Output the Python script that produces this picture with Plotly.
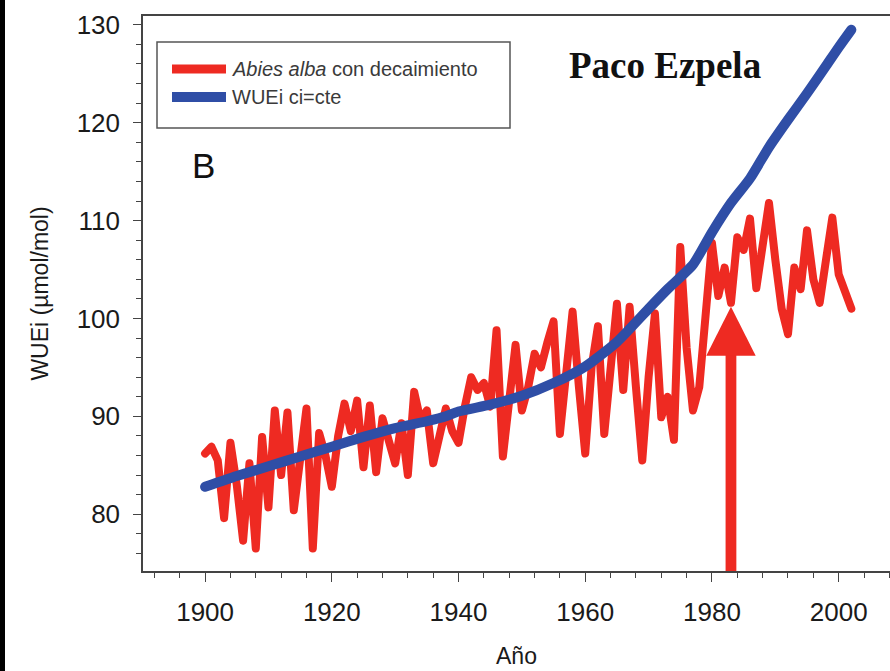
import plotly.graph_objects as go

# ---------------- data ----------------
red_years = list(range(1900, 2003))
red_wuei = [
    86.2, 86.9, 85.5, 79.6, 87.3, 83.0, 77.3, 85.2, 76.5, 87.9,   # 1900-1909
    80.7, 90.6, 84.0, 90.4, 80.4, 86.0, 90.8, 76.5, 88.3, 86.0,   # 1910-1919
    82.8, 88.0, 91.3, 88.5, 91.6, 84.8, 91.1, 84.3, 89.8, 87.5,   # 1920-1929
    85.2, 89.3, 84.0, 92.5, 89.6, 90.6, 85.2, 88.0, 90.8, 88.5,   # 1930-1939
    87.3, 91.0, 94.0, 92.7, 93.4, 91.0, 98.8, 85.9, 91.0, 97.3,   # 1940-1949
    90.6, 93.0, 96.4, 95.0, 97.5, 99.7, 88.2, 95.0, 100.7, 93.0,  # 1950-1959
    86.2, 95.0, 99.2, 88.2, 95.0, 101.5, 92.7, 101.2, 93.0, 85.5, # 1960-1969
    94.0, 100.5, 89.9, 92.0, 87.6, 107.3, 97.0, 90.6, 93.0, 100.0,# 1970-1979
    107.7, 102.3, 105.2, 101.6, 108.3, 107.0, 110.2, 103.1, 108.0, 111.8,  # 1980-1989
    106.0, 101.0, 98.4, 105.2, 103.0, 109.0, 104.0, 101.6, 106.0, 110.3,   # 1990-1999
    104.5, 103.0, 101.0,                                                  # 2000-2002
]

blue_years = [1900, 1905, 1910, 1915, 1920, 1925, 1930, 1935, 1938, 1940, 1945,
              1950, 1955, 1960, 1965, 1970, 1973, 1977, 1980, 1983, 1986, 1989,
              1992, 1995, 1998, 2000, 2002]
blue_wuei = [82.8, 83.9, 84.9, 85.9, 86.9, 87.9, 88.8, 89.5, 90.0, 90.5, 91.2,
             92.1, 93.4, 95.1, 97.6, 101.0, 103.0, 105.5, 108.8, 111.8, 114.3, 117.5,
             120.3, 123.0, 125.8, 127.7, 129.5]

arrow_year = 1983.0
arrow_tip = 101.2

x_ticks = [1900, 1920, 1940, 1960, 1980, 2000]
y_ticks = [80, 90, 100, 110, 120, 130]

name_red = "<i>Abies alba</i> con decaimiento"
name_blue = "WUEi ci=cte"
panel_letter = "B"
site_title = "Paco Ezpela"
x_title = "Año"
y_title = "WUEi (µmol/mol)"

# ---------------- layout geometry ----------------
W, H = 890, 671
L, T, R, B = 143, 16, 0, 100
PW, PH = W - L - R, H - T - B

def px(xp):
    return (xp - L) / PW

def py(yp):
    return (H - B - yp) / PH

RED = "#ee2a22"
BLUE = "#2f4ea6"
AXC = "#444444"
FONT = "Liberation Sans, Arial, sans-serif"

fig = go.Figure()
fig.add_trace(go.Scatter(x=red_years, y=red_wuei, mode="lines", name=name_red,
                         line=dict(color=RED, width=8), showlegend=False))
fig.add_trace(go.Scatter(x=blue_years, y=blue_wuei, mode="lines", name=name_blue,
                         line=dict(color=BLUE, width=10, shape="spline", smoothing=0.6),
                         showlegend=False))

shapes = []
# red arrow (shaft + head)
head_h = 5.0
head_w = 3.9
shaft_w = 0.85
shapes.append(dict(type="rect", xref="x", yref="y",
                   x0=arrow_year - shaft_w, x1=arrow_year + shaft_w,
                   y0=74.2, y1=arrow_tip - head_h + 0.1,
                   fillcolor=RED, line=dict(width=0)))
shapes.append(dict(type="path", xref="x", yref="y",
                   path=f"M {arrow_year - head_w} {arrow_tip - head_h} L {arrow_year + head_w} {arrow_tip - head_h} L {arrow_year} {arrow_tip} Z",
                   fillcolor=RED, line=dict(width=0)))
# manual legend box
shapes.append(dict(type="rect", xref="paper", yref="paper",
                   x0=px(157), x1=px(510), y0=py(128), y1=py(42),
                   fillcolor="white", line=dict(color="#555555", width=1.5), layer="below"))
shapes.append(dict(type="line", xref="paper", yref="paper",
                   x0=px(172), x1=px(226), y0=py(69), y1=py(69),
                   line=dict(color=RED, width=9)))
shapes.append(dict(type="line", xref="paper", yref="paper",
                   x0=px(172), x1=px(226), y0=py(97), y1=py(97),
                   line=dict(color=BLUE, width=10)))
# scan black strip at left edge
shapes.append(dict(type="rect", xref="paper", yref="paper",
                   x0=px(0), x1=px(5), y0=py(H), y1=py(0),
                   fillcolor="black", line=dict(width=0)))

annotations = [
    dict(text=name_red, x=px(230), y=py(69), xref="paper", yref="paper",
         xanchor="left", yanchor="middle", showarrow=False,
         font=dict(family=FONT, size=20, color="#3a3a3a")),
    dict(text=name_blue, x=px(230), y=py(97), xref="paper", yref="paper",
         xanchor="left", yanchor="middle", showarrow=False,
         font=dict(family=FONT, size=20, color="#3a3a3a")),
    dict(text=f"<b>{site_title}</b>", x=px(665), y=py(66), xref="paper", yref="paper",
         xanchor="center", yanchor="middle", showarrow=False,
         font=dict(family="Liberation Serif, Times New Roman, serif", size=37, color="#111111")),
    dict(text=panel_letter, x=px(203), y=py(165), xref="paper", yref="paper",
         xanchor="center", yanchor="middle", showarrow=False,
         font=dict(family=FONT, size=35, color="#111111")),
]

fig.update_layout(
    width=W, height=H,
    margin=dict(l=L, r=R, t=T, b=B),
    paper_bgcolor="white", plot_bgcolor="white",
    shapes=shapes, annotations=annotations,
    showlegend=False,
    font=dict(family=FONT, color="#1a1a1a"),
)
fig.update_xaxes(
    range=[1890.2, 2008.1], tickvals=x_ticks, ticktext=[str(v) for v in x_ticks],
    ticks="outside", ticklen=9, tickwidth=1.3, tickcolor=AXC,
    showline=True, linecolor=AXC, linewidth=1.5, mirror=True,
    showgrid=False, zeroline=False,
    tickfont=dict(size=26, family=FONT, color="#1a1a1a"),
    ticklabelstandoff=8,
    minor=dict(dtick=4, tick0=1900, ticks="outside", ticklen=5, tickcolor=AXC, tickwidth=1, showgrid=False),
    title=dict(text=x_title, font=dict(size=23, family=FONT, color="#1a1a1a"), standoff=22),
)
fig.update_yaxes(
    range=[74.2, 130.9], tickvals=y_ticks, ticktext=[str(v) for v in y_ticks],
    ticks="outside", ticklen=8, tickwidth=1.3, tickcolor=AXC,
    showline=True, linecolor=AXC, linewidth=1.5,
    showgrid=False, zeroline=False,
    tickfont=dict(size=26, family=FONT, color="#1a1a1a"),
    ticklabelstandoff=8,
    minor=dict(dtick=2, tick0=80, ticks="outside", ticklen=5, tickcolor=AXC, tickwidth=1, showgrid=False),
    title=dict(text=y_title, font=dict(size=23, family=FONT, color="#1a1a1a"), standoff=22),
)

post = """
function roundLines(){
  document.querySelectorAll('path.js-line').forEach(function(p){
    p.style.strokeLinejoin='round'; p.style.strokeLinecap='round';
  });
}
roundLines();
setTimeout(roundLines, 50);
setTimeout(roundLines, 300);
"""
fig.write_html("out.html", post_script=post)
